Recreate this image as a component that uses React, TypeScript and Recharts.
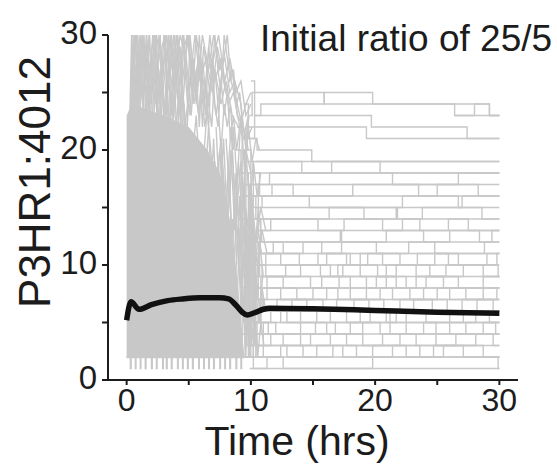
import React from 'react';
import { ComposedChart, Line, Area, XAxis, YAxis } from 'recharts';

// ---- data ----
const xTicks = [0, 5, 10, 15, 20, 25, 30];
const yTicks = [0, 5, 10, 15, 20, 25, 30];
const titleText = 'Initial ratio of 25/5';
const xLabel = 'Time (hrs)';
const yLabel = 'P3HR1:4012';

// dense early cloud envelope (solid region)
const coreT = [0, 0.4, 3, 5, 6.5, 7.5, 8.3, 8.9, 9.3, 9.5];
const coreLow = [1.9, 1.9, 1.9, 1.9, 1.9, 1.9, 1.9, 1.9, 1.9, 1.9];
const coreHigh = [23, 24, 23, 22, 20, 18, 14, 9, 4, 1.9];

// mean trajectory
const meanT = [0, 0.35, 1.0, 2.0, 3.3, 4.5, 5.9, 7.5, 8.2, 8.8, 9.3, 9.7, 10.3, 11.0, 11.5, 15, 20, 25, 30];
const meanV = [5.2, 6.8, 6.15, 6.55, 6.9, 7.05, 7.15, 7.15, 7.05, 6.5, 5.9, 5.65, 5.85, 6.15, 6.25, 6.2, 6.05, 5.9, 5.8];

// noisy early trajectories (linear)
const upperTraces: number[][][] = [
  [[0.2,20],[0.4,30],[0.7,23],[0.9,30],[1.2,21],[1.5,29],[1.9,24],[2.2,30],[2.6,22],[3.0,30],[3.3,25],[3.7,28],[4.1,21],[4.5,30],[4.9,24],[5.3,27],[5.8,23],[6.2,29],[6.7,25],[7.1,27],[7.6,24],[8.0,26],[8.5,23],[9.0,22],[9.4,21],[9.8,23]],
  [[0.3,17],[0.5,28],[0.8,30],[1.0,22],[1.3,30],[1.7,26],[2.0,21],[2.4,30],[2.8,27],[3.1,23],[3.5,30],[3.9,24],[4.3,29],[4.7,22],[5.1,26],[5.5,30],[5.9,26],[6.4,28],[6.9,25],[7.3,29],[7.8,26],[8.2,24],[8.6,25],[9.1,22],[9.6,24],[10.0,25]],
  [[0.3,22],[0.6,30],[1.0,25],[1.4,30],[1.6,23],[2.0,28],[2.3,24],[2.7,30],[3.0,22],[3.4,27],[3.8,30],[4.2,23],[4.6,27],[5.0,30],[5.4,24],[5.9,27],[6.3,22],[6.8,26],[7.2,23],[7.7,27],[8.1,30],[8.4,26],[8.9,24],[9.3,22],[9.7,21],[10.1,22]],
  [[0.4,19],[0.7,27],[1.1,30],[1.4,20],[1.8,30],[2.1,25],[2.5,28],[2.9,20],[3.3,29],[3.6,23],[4.0,30],[4.4,26],[4.8,21],[5.2,28],[5.7,25],[6.1,30],[6.6,27],[7.0,30],[7.5,27],[7.9,28],[8.3,25],[8.7,26],[9.2,24],[9.6,20],[10.0,18]],
  [[0.3,25],[0.6,20],[0.9,28],[1.3,24],[1.6,30],[2.0,24],[2.3,30],[2.7,25],[3.1,29],[3.5,20],[3.9,26],[4.3,30],[4.8,28],[5.2,23],[5.6,30],[6.0,27],[6.5,24],[7.0,28],[7.4,30],[7.9,26],[8.3,28],[8.8,25],[9.2,26],[9.6,23],[10.0,24]],
  [[0.5,30],[0.8,24],[1.1,28],[1.5,22],[1.8,27],[2.2,30],[2.5,21],[2.9,26],[3.2,30],[3.6,26],[4.0,22],[4.4,28],[4.9,30],[5.3,25],[5.8,28],[6.2,24],[6.7,30],[7.1,26],[7.6,28],[8.0,25],[8.5,27],[8.9,23],[9.4,22],[9.8,20]],
  [[0.25,21],[0.45,29],[0.7,30],[0.9,23],[1.15,30],[1.4,25],[1.6,30],[1.85,21],[2.1,28],[2.35,30],[2.6,24],[2.85,29],[3.1,30],[3.35,22],[3.6,30],[3.85,26],[4.1,29],[4.35,23],[4.6,30],[4.85,26],[5.1,23],[5.35,28],[5.6,25],[5.85,30],[6.1,26],[6.35,23],[6.6,29],[6.85,26],[7.1,30],[7.35,27],[7.6,25],[7.85,30],[8.1,28],[8.35,26],[8.6,27],[8.85,24],[9.1,25],[9.35,22],[9.6,21],[9.85,23]],
  [[0.45,20],[0.65,30],[0.85,27],[1.1,24],[1.35,29],[1.6,26],[1.85,30],[2.1,22],[2.35,25],[2.6,30],[2.85,27],[3.1,21],[3.35,27],[3.6,24],[3.85,30],[4.1,27],[4.35,22],[4.6,25],[4.85,30],[5.1,28],[5.35,24],[5.6,27],[5.85,22],[6.1,28],[6.35,25],[6.6,22],[6.85,28],[7.1,24],[7.35,22],[7.6,26],[7.85,23],[8.1,25],[8.35,21],[8.6,23],[8.85,20],[9.1,22]],
  [[0.4,23],[0.6,27],[0.85,22],[1.1,30],[1.35,28],[1.6,21],[1.85,26],[2.1,30],[2.35,27],[2.6,21],[2.85,24],[3.1,27],[3.35,30],[3.6,21],[3.85,24],[4.1,30],[4.35,28],[4.6,24],[4.85,21],[5.1,30],[5.35,27],[5.6,24],[5.85,28],[6.1,22],[6.35,26],[6.6,24],[6.85,22],[7.1,27],[7.35,24],[7.6,20],[7.85,24],[8.1,22],[8.35,24],[8.6,20]],
  [[0.4,14],[0.8,24],[1.2,16],[1.7,26],[2.2,18],[2.6,27],[3.1,17],[3.6,25],[4.1,15],[4.6,24],[5.1,17],[5.6,23],[6.1,14],[6.6,22],[7.1,16],[7.6,21],[8.1,13],[8.5,20],[8.9,12],[9.3,18],[9.7,11],[10.1,15],[10.5,10],[10.9,13],[11.3,11]],
  [[0.6,20],[1.0,12],[1.5,22],[2.0,15],[2.5,24],[3.0,13],[3.5,22],[4.0,16],[4.5,25],[5.0,14],[5.5,21],[6.0,16],[6.5,24],[7.0,13],[7.5,20],[8.0,15],[8.4,22],[8.8,14],[9.2,19],[9.6,12],[10.0,17],[10.4,12],[10.8,15],[11.2,13]],
];

// transition-zone trajectories (linear)
const midTraces: number[][][] = [
  [[6.5,20],[6.8,12],[7.1,19],[7.4,10],[7.7,18],[8.0,11],[8.3,17],[8.6,9],[8.9,16],[9.2,8],[9.5,15],[9.8,7],[10.1,13],[10.4,8],[10.7,12],[11.0,9]],
  [[6.7,14],[7.0,21],[7.3,13],[7.6,20],[7.9,12],[8.2,19],[8.5,11],[8.8,18],[9.1,12],[9.4,17],[9.7,10],[10.0,16],[10.3,11],[10.6,15],[10.9,12]],
  [[7.0,8],[7.3,16],[7.6,6],[7.9,15],[8.2,5],[8.5,14],[8.8,4],[9.1,13],[9.4,5],[9.7,12],[10.0,4],[10.3,10],[10.6,5],[10.9,8],[11.2,6]],
  [[7.2,22],[7.5,15],[7.8,21],[8.1,14],[8.4,20],[8.7,13],[9.0,19],[9.3,14],[9.6,20],[9.9,15],[10.2,19],[10.5,16],[10.8,18]],
  [[7.8,10],[8.05,3],[8.3,9],[8.55,2],[8.8,8],[9.05,3],[9.3,10],[9.55,2],[9.8,7],[10.05,3],[10.3,6],[10.55,2],[10.8,5],[11.05,3]],
  [[8.0,21],[8.3,16],[8.6,22],[8.9,17],[9.2,23],[9.5,18],[9.8,22],[10.1,19],[10.4,21],[10.7,20]],
  [[8.2,9],[8.45,14],[8.7,7],[8.95,13],[9.2,6],[9.45,11],[9.7,4],[9.95,10],[10.2,5],[10.45,9],[10.7,6],[10.95,9]],
  [[8.6,18],[8.85,10],[9.1,16],[9.35,9],[9.6,15],[9.85,8],[10.1,14],[10.35,10],[10.6,13],[10.85,11]],
];

// bottom streaks (step)
const bottomTraces: number[][][] = [
  [[0.0,2],[0.3,1],[0.36,2],[1.1,1],[1.15,2],[2.0,1],[2.06,2],[2.9,1],[2.95,2],[3.6,1],[3.66,2],[4.5,1],[4.55,2],[5.3,1],[5.36,2],[6.2,1],[6.25,2],[7.0,1],[7.06,2],[7.9,1],[7.95,2],[8.8,1],[8.86,2],[9.6,2]],
  [[0.0,2],[0.7,1],[0.75,2],[1.5,1],[1.56,2],[2.4,1],[2.45,2],[3.2,1],[3.26,2],[4.1,1],[4.15,2],[4.9,1],[4.96,2],[5.8,1],[5.85,2],[6.6,1],[6.66,2],[7.5,1],[7.55,2],[8.3,1],[8.36,2],[9.2,1],[9.25,2],[9.9,2]],
];

// later step trajectories (stepAfter)
const stepTraces: number[][][] = [
  [[9.9,23],[10.1,25],[15.9,24],[29.2,23],[30,23]],
  [[10.0,26],[10.3,23],[10.8,24],[15.9,25],[19.8,24],[26.4,23],[28.0,24],[29.2,23],[30,23]],
  [[9.5,24],[9.8,21],[10.3,23],[19.7,22],[27.4,21],[30,21]],
  [[9.4,20],[9.7,22],[19.3,21],[30,21]],
  [[9.2,18],[9.6,21],[10.5,20],[14.9,19],[30,19]],
  [[9.6,17],[10.2,19],[14.1,18],[16.5,19],[20.4,18],[30,18]],
  [[9.0,14],[9.5,20],[10.0,16],[10.6,17],[11.5,18],[21.4,17],[26.7,18],[30,18]],
  [[8.9,22],[9.3,13],[9.8,18],[10.7,16],[11.7,17],[13.4,16],[18.2,17],[23.5,16],[25.0,17],[28.3,16],[30,16]],
  [[9.1,12],[9.6,19],[10.2,15],[10.9,16],[14.7,15],[22.2,16],[26.7,15],[27.0,16],[30,16]],
  [[8.7,20],[9.2,11],[9.9,16],[10.4,14],[16.3,15],[19.1,14],[21.7,15],[21.8,14],[23.8,15],[28.6,14],[30,14]],
  [[9.4,9],[9.9,17],[10.6,13],[11.6,14],[15.4,13],[17.5,14],[20.6,13],[22.2,14],[23.6,13],[25.9,14],[27.5,13],[30,13]],
  [[9.0,18],[9.5,10],[10.1,14],[10.8,12],[17.2,13],[17.3,12],[20.9,13],[23.9,12],[26.0,13],[28.4,12],[29.4,13],[30,13]],
  [[8.8,15],[9.3,8],[9.7,13],[10.3,11],[11.8,12],[12.6,11],[14.2,12],[15.7,11],[17.3,12],[20.1,11],[22.7,12],[24.8,11],[28.8,12],[30,12]],
  [[9.2,14],[9.6,7],[10.2,12],[10.6,10],[11.2,11],[13.9,10],[16.1,11],[18.0,10],[19.4,11],[22.0,10],[24.8,11],[26.7,10],[29.8,11],[30,11]],
  [[9.5,16],[10.0,9],[10.7,11],[12.4,10],[15.4,11],[17.7,10],[18.8,11],[20.6,10],[23.4,11],[25.9,10],[29.0,11],[30,11]],
  [[9.1,4],[9.6,13],[10.1,9],[10.6,10],[11.2,9],[14.0,10],[16.4,9],[17.4,10],[20.2,9],[21.7,10],[24.4,9],[27.1,10],[29.9,9],[30,9]],
  [[9.4,17],[9.9,6],[10.4,10],[10.9,9],[12.8,10],[15.6,9],[17.0,10],[18.8,9],[20.9,10],[23.3,9],[25.7,10],[28.7,9],[30,9]],
  [[8.9,3],[9.3,12],[9.8,7],[10.5,8],[11.3,9],[14.8,8],[17.1,9],[19.3,8],[20.9,9],[22.5,8],[24.1,9],[26.7,8],[30,8]],
  [[9.7,14],[10.2,5],[10.8,9],[12.6,8],[15.7,9],[18.0,8],[20.1,9],[21.7,8],[23.3,9],[25.5,8],[28.7,9],[30,9]],
  [[9.0,15],[9.5,4],[10.0,10],[10.6,7],[11.3,8],[13.7,7],[16.1,8],[18.0,7],[20.4,8],[22.8,7],[25.0,8],[27.3,7],[29.8,8],[30,8]],
  [[9.3,2],[9.8,11],[10.3,6],[10.9,8],[12.4,7],[15.0,8],[17.0,7],[19.3,8],[21.4,7],[23.9,8],[26.0,7],[28.7,8],[30,8]],
  [[9.2,12],[9.7,3],[10.3,7],[11.0,6],[13.3,7],[15.8,6],[18.3,7],[20.7,6],[23.1,7],[25.8,6],[28.2,7],[30,7]],
  [[9.5,10],[10.1,5],[10.7,6],[12.1,7],[14.5,6],[16.9,7],[19.5,6],[22.0,7],[24.6,6],[27.0,7],[29.5,6],[30,6]],
  [[9.4,13],[9.9,3],[10.5,5],[11.6,6],[12.9,5],[15.3,6],[17.7,5],[19.6,6],[21.2,5],[22.5,6],[26.0,5],[28.1,6],[30,6]],
  [[9.6,9],[10.2,4],[10.8,6],[12.4,5],[14.0,6],[16.4,5],[18.8,6],[20.9,5],[21.7,6],[24.1,5],[27.1,6],[29.2,5],[30,5]],
  [[9.1,9],[9.6,2],[10.2,5],[11.4,4],[14.0,5],[16.1,4],[18.0,5],[20.4,4],[22.5,5],[24.9,4],[27.3,5],[29.7,4],[30,4]],
  [[9.8,8],[10.4,3],[11.0,5],[12.0,4],[15.2,5],[16.8,4],[19.0,5],[21.2,4],[23.9,5],[26.0,4],[28.7,5],[30,5]],
  [[9.3,7],[9.9,2],[10.5,3],[11.6,4],[14.0,3],[16.4,4],[19.0,3],[22.0,4],[24.9,3],[28.1,4],[30,4]],
  [[9.7,6],[10.3,4],[12.6,3],[14.8,4],[17.7,3],[20.6,4],[23.3,3],[26.5,4],[29.5,3],[30,3]],
  [[9.5,5],[10.0,2],[11.0,3],[12.9,2],[15.3,3],[17.4,2],[19.8,3],[22.5,2],[24.7,3],[27.1,2],[30,2]],
  [[9.8,4],[10.4,2],[12.4,3],[14.2,2],[16.6,3],[18.5,2],[21.4,3],[23.6,2],[25.5,3],[28.7,2],[30,2]],
  [[9.6,3],[10.2,1],[11.3,2],[12.6,1],[19.8,2],[29.9,1],[30,1]],
];

// steady levels occupied late in the run: [level, from, to]
const baseLevels: number[][] = [
  [1,9.9,30],[2,10.4,30],[3,10.4,30],[4,10.4,30],[5,10.4,30],[6,10.4,30],[7,10.4,30],[8,10.4,30],
  [9,10.4,30],[10,10.4,30],[11,10.4,30],[12,10.4,30],[13,10.4,30],[14,10.4,30],[15,10.4,30],
  [16,10.4,30],[17,10.4,30],[18,10.4,30],[19,10.4,30],[23,26.4,30],
];

const GRAY = '#c8c8c8';
const INK = '#1c1c1c';
const FONT = 'Liberation Sans, Arial, Helvetica, sans-serif';

const XTick = (props: any) => {
  const { x, y, payload } = props;
  if (payload.value % 10 !== 0) return <g />;
  return (
    <text x={x} y={y} dy="0.71em" textAnchor="middle" fontSize={32} fill={INK} fontFamily={FONT}>
      {String(payload.value)}
    </text>
  );
};

const YTick = (props: any) => {
  const { x, y, payload } = props;
  if (payload.value % 10 !== 0) return <g />;
  return (
    <text x={x} y={y - 3} dy="0.355em" textAnchor="end" fontSize={33} fill={INK} fontFamily={FONT}>
      {String(payload.value)}
    </text>
  );
};

export default function App() {
  const coreData = coreT.map((t, i) => ({ t, range: [coreLow[i], coreHigh[i]] }));
  const meanData = meanT.map((t, i) => ({ t, v: meanV[i] }));
  const pts = (arr: number[][]) => arr.map(([t, v]) => ({ t, v }));

  const grayLine = (key: string, data: any[], type: any) => (
    <Line
      key={key}
      data={data}
      dataKey="v"
      type={type}
      stroke={GRAY}
      strokeWidth={1.4}
      dot={false}
      activeDot={false}
      isAnimationActive={false}
    />
  );

  return (
    <div style={{ position: 'absolute', left: 0, top: 0, width: 557, height: 466, background: '#fff' }}>
      <ComposedChart width={557} height={466} data={coreData} margin={{ top: 35, right: 39, left: 0, bottom: 0 }}>
        <XAxis
          type="number"
          dataKey="t"
          domain={[-1.5, 31.5]}
          ticks={xTicks}
          allowDataOverflow
          height={86}
          tickSize={5}
          tickMargin={3}
          axisLine={{ stroke: INK, strokeWidth: 2 }}
          tickLine={{ stroke: INK, strokeWidth: 2 }}
          tick={<XTick />}
        />
        <YAxis
          type="number"
          domain={[0, 30]}
          ticks={yTicks}
          allowDataOverflow
          width={108}
          tickSize={6}
          tickMargin={5}
          axisLine={{ stroke: INK, strokeWidth: 2 }}
          tickLine={{ stroke: INK, strokeWidth: 2 }}
          tick={<YTick />}
        />
        <Area dataKey="range" type="linear" fill={GRAY} fillOpacity={1} stroke="none" isAnimationActive={false} />
        {upperTraces.map((tr, i) => grayLine('u' + i, pts(tr), 'linear'))}
        {midTraces.map((tr, i) => grayLine('m' + i, pts(tr), 'linear'))}
        {bottomTraces.map((tr, i) => grayLine('b' + i, pts(tr), 'stepAfter'))}
        {stepTraces.map((tr, i) => grayLine('s' + i, pts(tr), 'stepAfter'))}
        {baseLevels.map(([lv, a, b], i) => grayLine('l' + i, [{ t: a, v: lv }, { t: b, v: lv }], 'linear'))}
        <Line
          data={meanData}
          dataKey="v"
          type="monotone"
          stroke="#111"
          strokeWidth={5.5}
          dot={false}
          activeDot={false}
          isAnimationActive={false}
        />
        <text x={260} y={51} fontSize={37} fontFamily={FONT} fill={INK}>{titleText}</text>
        <text x={297} y={455} fontSize={41} fontFamily={FONT} fill={INK} textAnchor="middle">{xLabel}</text>
        <text x={50} y={182} fontSize={44} fontFamily={FONT} fill={INK} textAnchor="middle" transform="rotate(-90 50 182)">{yLabel}</text>
      </ComposedChart>
    </div>
  );
}
